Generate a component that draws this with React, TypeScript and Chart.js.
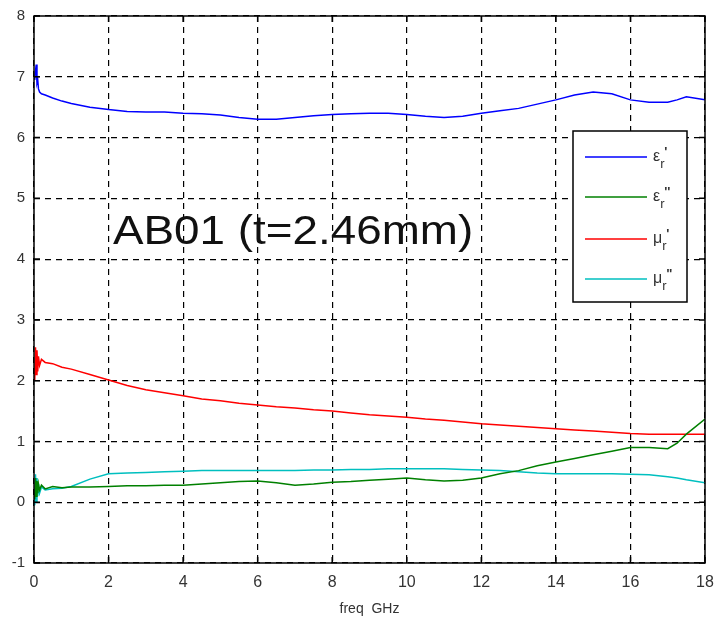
import React, { useEffect, useRef } from "react";
import { Chart, registerables } from "chart.js";

Chart.register(...registerables);

const freqGHz = [0.02, 0.04, 0.06, 0.08, 0.1, 0.12, 0.15, 0.2, 0.3, 0.5, 0.75, 1, 1.5, 2, 2.5, 3, 3.5, 4, 4.5, 5, 5.5, 6, 6.5, 7, 7.5, 8, 8.5, 9, 9.5, 10, 10.5, 11, 11.5, 12, 12.5, 13, 13.5, 14, 14.5, 15, 15.5, 16, 16.5, 17, 17.25, 17.5, 18];
const epsReal = [6.95, 7.1, 7.2, 6.9, 6.95, 6.8, 6.75, 6.72, 6.7, 6.65, 6.6, 6.56, 6.5, 6.46, 6.43, 6.42, 6.42, 6.4, 6.39, 6.37, 6.33, 6.3, 6.3, 6.33, 6.36, 6.38, 6.39, 6.4, 6.4, 6.38, 6.35, 6.33, 6.35, 6.4, 6.44, 6.48, 6.55, 6.62, 6.7, 6.75, 6.72, 6.62, 6.58, 6.58, 6.62, 6.67, 6.62];
const epsImag = [0.05, 0.4, 0.1, 0.35, 0.15, 0.3, 0.2, 0.28, 0.22, 0.26, 0.24, 0.25, 0.25, 0.26, 0.27, 0.27, 0.28, 0.28, 0.3, 0.32, 0.34, 0.35, 0.32, 0.28, 0.3, 0.33, 0.34, 0.36, 0.38, 0.4, 0.37, 0.35, 0.36, 0.4, 0.47, 0.52, 0.6, 0.66, 0.72, 0.78, 0.84, 0.9, 0.9, 0.88, 0.97, 1.12, 1.37];
const muReal = [2.0, 2.55, 2.1, 2.5, 2.15, 2.4, 2.25, 2.35, 2.3, 2.28, 2.22, 2.19, 2.1, 2.01, 1.92, 1.85, 1.8, 1.75, 1.7, 1.67, 1.63, 1.6, 1.57, 1.55, 1.52, 1.5, 1.47, 1.44, 1.42, 1.4, 1.37, 1.35, 1.32, 1.29, 1.27, 1.25, 1.23, 1.21, 1.19, 1.17, 1.15, 1.13, 1.12, 1.12, 1.12, 1.12, 1.12];
const muImag = [-0.05, 0.46, 0.0, 0.4, 0.1, 0.3, 0.15, 0.25, 0.2, 0.22, 0.23, 0.26, 0.38, 0.47, 0.48, 0.49, 0.5, 0.51, 0.52, 0.52, 0.52, 0.52, 0.52, 0.52, 0.53, 0.53, 0.54, 0.54, 0.55, 0.55, 0.55, 0.55, 0.54, 0.53, 0.52, 0.5, 0.48, 0.47, 0.47, 0.47, 0.47, 0.46, 0.45, 0.42, 0.4, 0.37, 0.32];

const seriesNames = ["\u03b5", "\u03b5", "\u03bc", "\u03bc"];
const seriesMarks = ["'", "''", "'", "\""];
const seriesColors = ["#0000ff", "#008000", "#ff0000", "#00bfbf"];
const xTicks = [0, 2, 4, 6, 8, 10, 12, 14, 16, 18];
const annotationText = "AB01 (t=2.46mm)";
const xTitle = "freq  GHz";

const FONT = "'Liberation Sans', Arial, sans-serif";

const framePlugin = {
  id: "frameAndExtras",
  afterDraw(chart: any) {
    const { ctx, chartArea: a } = chart;
    ctx.save();
    ctx.strokeStyle = "#000";
    ctx.lineWidth = 1.5;
    ctx.strokeRect(a.left, a.top, a.right - a.left, a.bottom - a.top);
    const xs = chart.scales.x;
    const ys = chart.scales.y;
    ctx.lineWidth = 1.5;
    ctx.beginPath();
    for (const v of xTicks) {
      const px = xs.getPixelForValue(v);
      ctx.moveTo(px, a.top);
      ctx.lineTo(px, a.top + 6);
      ctx.moveTo(px, a.bottom);
      ctx.lineTo(px, a.bottom - 6);
    }
    for (let v = -1; v <= 8; v++) {
      const py = ys.getPixelForValue(v);
      ctx.moveTo(a.left, py);
      ctx.lineTo(a.left + 6, py);
      ctx.moveTo(a.right, py);
      ctx.lineTo(a.right - 6, py);
    }
    ctx.stroke();

    ctx.save();
    ctx.fillStyle = "#111";
    ctx.font = `40px ${FONT}`;
    ctx.textBaseline = "alphabetic";
    ctx.translate(113, 244);
    ctx.scale(1.145, 1);
    ctx.fillText(annotationText, 0, 0);
    ctx.restore();

    const lx = 573, ly = 131, lw = 114, lh = 171;
    ctx.fillStyle = "#fff";
    ctx.fillRect(lx, ly, lw, lh);
    ctx.strokeStyle = "#000";
    ctx.lineWidth = 1.5;
    ctx.strokeRect(lx, ly, lw, lh);
    const rowsY = [157, 197, 239, 279];
    for (let i = 0; i < 4; i++) {
      const y = rowsY[i];
      ctx.strokeStyle = seriesColors[i];
      ctx.lineWidth = 1.5;
      ctx.beginPath();
      ctx.moveTo(585, y);
      ctx.lineTo(647, y);
      ctx.stroke();
      ctx.fillStyle = "#333";
      ctx.textBaseline = "alphabetic";
      ctx.font = `16px ${FONT}`;
      ctx.fillText(seriesNames[i], 653, y + 4);
      const w = ctx.measureText(seriesNames[i]).width;
      ctx.font = `13px ${FONT}`;
      ctx.fillText("r", 653 + w, y + 11);
      ctx.font = `bold 13px ${FONT}`;
      ctx.fillText(seriesMarks[i], 653 + w + 4, y - 1);
    }
    ctx.restore();
  },
};

function makeData(vals: number[]) {
  return freqGHz.map((f, i) => ({ x: f, y: vals[i] }));
}

export default function App() {
  const ref = useRef<HTMLCanvasElement | null>(null);
  useEffect(() => {
    if (!ref.current) return;
    const allSeries = [epsReal, epsImag, muReal, muImag];
    const chart = new Chart(ref.current, {
      type: "line",
      data: {
        datasets: allSeries.map((s, i) => ({
          label: seriesNames[i] + "r" + seriesMarks[i],
          data: makeData(s),
          borderColor: seriesColors[i],
          backgroundColor: seriesColors[i],
          borderWidth: 1.5,
          pointRadius: 0,
          tension: 0,
          fill: false,
        })),
      },
      options: {
        responsive: false,
        animation: false,
        layout: { padding: { top: 16, right: 10, left: 0, bottom: 0 } },
        plugins: { legend: { display: false }, tooltip: { enabled: false } },
        scales: {
          x: {
            type: "linear",
            min: 0,
            max: 18,
            afterBuildTicks: (s: any) => {
              s.ticks = xTicks.map((v) => ({ value: v }));
            },
            afterFit: (s: any) => {
              s.height = 56;
              s.paddingRight = 0;
              s.paddingLeft = 0;
            },
            ticks: {
              color: "#333",
              font: { family: FONT, size: 16 },
              padding: 10,
              maxRotation: 0,
              autoSkip: false,
            },
            grid: { color: "#000", lineWidth: 1.2, drawTicks: false },
            border: { display: false, dash: [6, 5] },
            title: {
              display: true,
              text: xTitle,
              color: "#333",
              font: { family: FONT, size: 14 },
              padding: { top: 2, bottom: 1 },
            },
          },
          y: {
            type: "linear",
            min: -1,
            max: 8,
            ticks: {
              stepSize: 1,
              color: "#333",
              font: { family: FONT, size: 15 },
              padding: 9,
            },
            afterFit: (s: any) => {
              s.width = 34;
              s.paddingTop = 0;
              s.paddingBottom = 0;
            },
            grid: { color: "#000", lineWidth: 1.2, drawTicks: false },
            border: { display: false, dash: [6, 5] },
          },
        },
      },
      plugins: [framePlugin],
    });
    return () => chart.destroy();
  }, []);
  return (
    <div style={{ position: "absolute", left: 0, top: 0, width: 715, height: 619, background: "#fff" }}>
      <canvas ref={ref} width={715} height={619} />
    </div>
  );
}
